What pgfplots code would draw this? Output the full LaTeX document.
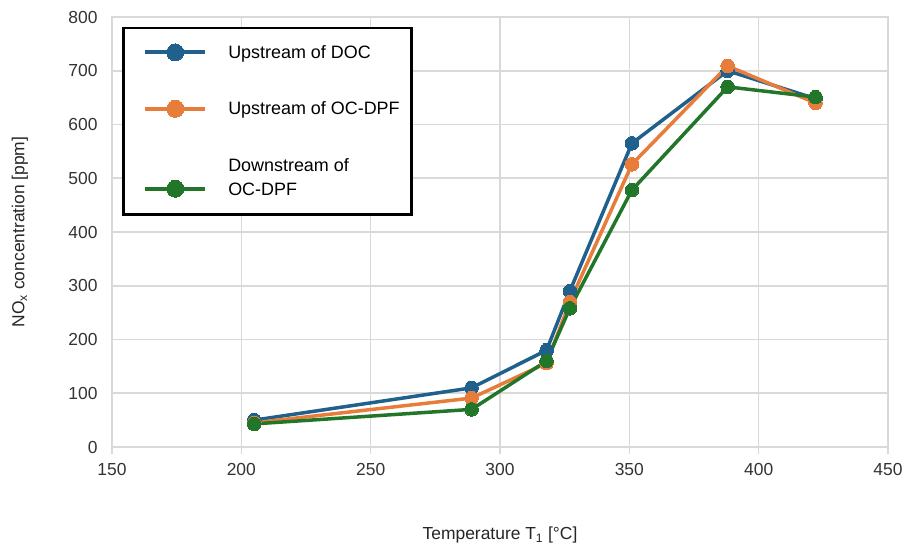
\documentclass[border=0pt]{standalone}
\usepackage{pgfplots}
\pgfplotsset{compat=1.18}
\usepackage{fontspec}
\setmainfont{Liberation Sans}

\definecolor{cBlue}{RGB}{31,96,140}
\definecolor{cOrange}{RGB}{232,124,58}
\definecolor{cGreen}{RGB}{34,118,42}
\definecolor{cGrid}{RGB}{217,217,217}

\begin{document}
\begin{tikzpicture}
\begin{axis}[
  scale only axis,
  width=776bp, height=430bp,
  xmin=150, xmax=450, ymin=0, ymax=800,
  xtick={150,200,...,450},
  ytick={0,100,...,800},
  grid=major,
  major grid style={cGrid, line width=1.6bp},
  axis line style={cGrid, line width=1.6bp},
  xtick pos=bottom, ytick pos=left,
  tick align=outside,
  major tick length=7bp,
  xtick style={cGrid, line width=1.6bp},
  ytick style={draw=none},
  /pgf/number format/assume math mode=true,
  /pgf/number format/1000 sep={},
  ticklabel style={font=\fontsize{17.5}{20}\selectfont, text=black!80},
  xticklabel style={yshift=-6bp},
  yticklabel style={xshift=-4bp},
  xlabel={Temperature T\textsubscript{1} [\textdegree C]},
  ylabel={NO\textsubscript{x} concentration [ppm]},
  label style={font=\fontsize{17.5}{20}\selectfont, text=black!85},
  xlabel style={at={(axis description cs:0.5,0)}, anchor=center, yshift=-88bp},
  ylabel style={at={(axis description cs:-0.1186,0.5)}, anchor=center},
  legend cell align=left,
  legend style={at={(axis description cs:0.0129,0.977)}, anchor=north west,
    draw=black, line width=2.5bp, fill=white,
    inner xsep=8bp, inner ysep=15bp, row sep=38bp, column sep=17bp,
    font=\fontsize{18}{25}\selectfont,
    nodes={align=left, inner xsep=4bp}},
  legend image code/.code={%
    \path[draw=none] (0bp,0bp) -- (74bp,0bp);
    \draw[mark repeat=2, mark phase=2, line width=4bp, mark size=8.5bp]
      plot coordinates {(14bp,0bp) (44bp,0bp) (74bp,0bp)};},
  every axis plot/.append style={line width=3.5bp, mark=*, mark size=6.8bp},
]
\addplot[cBlue, mark options={fill=cBlue, draw=cBlue, line width=0pt}] coordinates {
  (205,50) (289,110) (318,180) (327,290) (351,565) (388,700) (422,648)};
\addlegendentry{Upstream of DOC}
\addplot[cOrange, mark options={fill=cOrange, draw=cOrange, line width=0pt}] coordinates {
  (205,45) (289,91) (318,156) (327,270) (351,526) (388,709) (422,640)};
\addlegendentry{Upstream of OC-DPF}
\addplot[cGreen, mark options={fill=cGreen, draw=cGreen, line width=0pt},
  legend image code/.code={%
    \path[draw=none] (0bp,11bp) -- (74bp,-11bp);
    \draw[mark repeat=2, mark phase=2, line width=4bp, mark size=8.5bp]
      plot coordinates {(14bp,-11bp) (44bp,-11bp) (74bp,-11bp)};}] coordinates {
  (205,43) (289,70) (318,160) (327,258) (351,478) (388,670) (422,651)};
\addlegendentry{Downstream of\\OC-DPF}
\end{axis}
\pgfresetboundingbox
\path (-112bp,-101bp) rectangle (800bp,447bp);
\end{tikzpicture}
\end{document}
